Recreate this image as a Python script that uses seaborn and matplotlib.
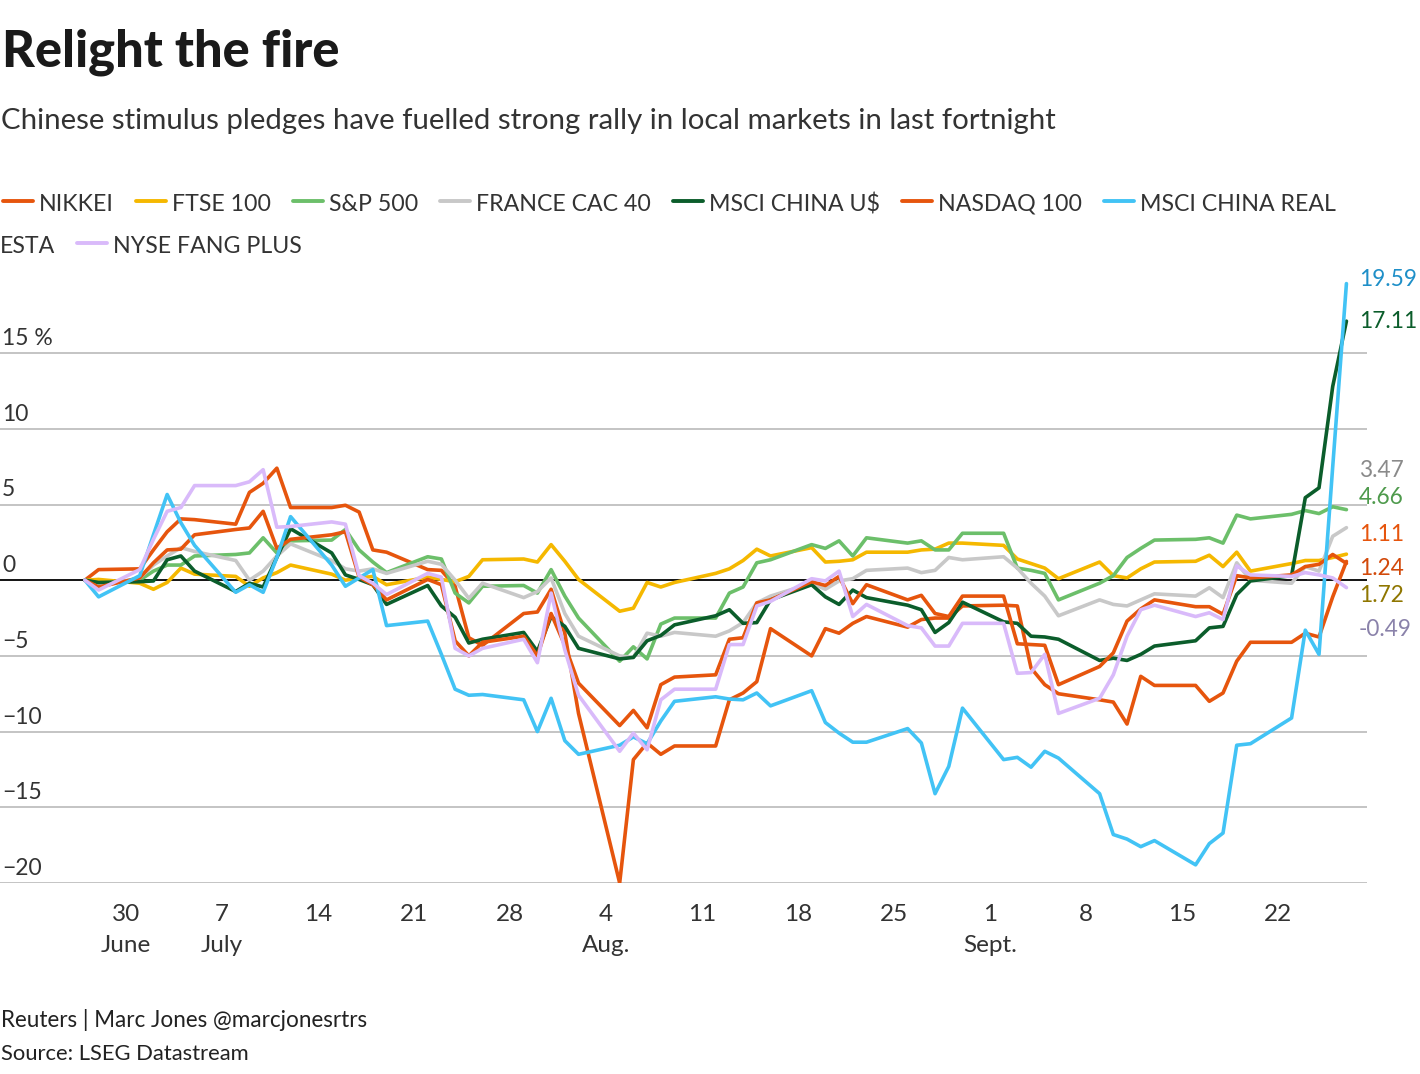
import pandas as pd
import numpy as np
import matplotlib
matplotlib.use("Agg")
import matplotlib.pyplot as plt
import matplotlib.dates as mdates
import matplotlib.transforms as mtransforms
from matplotlib.lines import Line2D
import seaborn as sns

# trading days 27 June - 27 Sept 2024, % change since start
dates = pd.bdate_range("2024-06-27", "2024-09-27")

nikkei = [0, 0.7, 0.75, 2.0, 3.2, 4.05, 4.0, 3.7, 5.8, 6.4, 7.4, 4.8, 4.8, 4.95, 4.5, 2.0, 1.85,
          0.7, 0.65, -0.4, -3.8, -4.3, -2.2, -2.1, -0.6, -3.5, -8.8, -20.0, -11.85, -10.75, -11.5,
          -10.95, -10.95, -7.9, -7.45, -6.7, -3.2, -5.0, -3.2, -3.5, -2.85, -2.4, -3.1, -2.6, -2.5,
          -2.5, -1.7, -1.65, -1.7, -5.8, -6.9, -7.5, -7.9, -8.05, -9.5, -6.35, -6.95, -6.95, -8.0,
          -7.45, -5.35, -4.1, -4.1, -3.5, -3.75, -1.1, 1.24]
ftse = [0, 0.05, -0.2, -0.6, -0.15, 0.8, 0.4, 0.25, -0.4, 0.15, 0.5, 1.0, 0.4, 0.0, 0.15, 0.25, -0.3,
        0.2, 0.05, -0.1, 0.25, 1.35, 1.4, 1.2, 2.35, 1.25, 0.05, -2.05, -1.85, -0.15, -0.45, -0.15,
        0.45, 0.75, 1.3, 2.05, 1.6, 2.15, 1.2, 1.25, 1.35, 1.85, 1.85, 2.0, 2.05, 2.45, 2.45, 2.3,
        1.4, 1.1, 0.8, 0.1, 1.2, 0.3, 0.15, 0.75, 1.2, 1.25, 1.65, 0.9, 1.85, 0.6, 1.1, 1.3, 1.3,
        1.5, 1.72]
sp500 = [0, -0.2, 0.0, 0.6, 1.0, 1.0, 1.6, 1.7, 1.8, 2.8, 1.8, 2.6, 2.65, 3.35, 2.0, 1.2, 0.5,
         1.55, 1.4, -0.85, -1.5, -0.4, -0.35, -0.85, 0.7, -1.05, -2.5, -5.35, -4.4, -5.2, -2.9, -2.5,
         -2.5, -0.85, -0.45, 1.15, 1.35, 2.35, 2.1, 2.6, 1.6, 2.8, 2.45, 2.6, 2.0, 2.0, 3.1, 3.1,
         0.8, 0.65, 0.45, -1.3, -0.2, 0.3, 1.5, 2.1, 2.65, 2.7, 2.8, 2.45, 4.3, 4.05, 4.35, 4.6,
         4.4, 4.85, 4.66]
cac40 = [0, -0.4, 0.15, 1.0, 1.6, 2.15, 1.9, 1.3, 0.0, 0.6, 1.6, 2.4, 1.3, 0.75, 0.6, 0.75, 0.45,
         1.25, 1.05, 0.0, -1.2, -0.2, -1.15, -0.75, 0.15, -2.2, -3.7, -5.0, -5.1, -3.5, -3.7, -3.45,
         -3.7, -3.35, -2.8, -1.5, -1.05, -0.2, -0.6, -0.05, 0.1, 0.65, 0.8, 0.5, 0.65, 1.5, 1.35,
         1.55, 0.8, -0.2, -1.05, -2.35, -1.3, -1.6, -1.7, -1.3, -0.9, -1.05, -0.5, -1.15, 1.15, 0.0,
         -0.2, 0.9, 0.6, 2.9, 3.47]
china_us = [0, -0.15, -0.1, -0.05, 1.35, 1.6, 0.6, -0.75, -0.2, -0.45, 1.5, 3.4, 1.8, 0.35, 0.05,
            -0.3, -1.6, -0.35, -1.7, -2.45, -4.15, -3.9, -3.45, -4.7, -2.4, -3.05, -4.5, -5.2, -5.1,
            -4.0, -3.65, -2.95, -2.35, -1.95, -2.85, -2.8, -1.3, -0.3, -1.1, -1.6, -0.65, -1.15,
            -1.65, -1.95, -3.45, -2.8, -1.45, -2.75, -2.85, -3.7, -3.75, -3.9, -5.3, -5.15, -5.3,
            -4.9, -4.35, -4.0, -3.15, -3.05, -0.95, -0.05, 0.3, 5.45, 6.1, 12.8, 17.11]
nasdaq = [0, -0.45, 0.15, 1.15, 2.0, 2.05, 3.0, 3.35, 3.45, 4.55, 2.1, 2.7, 3.0, 3.2, 0.2, -0.3,
          -1.3, 0.05, -0.3, -4.0, -5.0, -4.1, -3.7, -5.0, -2.2, -4.3, -6.8, -9.6, -8.6, -9.75, -6.9,
          -6.4, -6.25, -3.9, -3.8, -1.5, -1.3, -0.1, -0.35, 0.25, -1.55, -0.3, -1.3, -1.0, -2.2,
          -2.4, -1.05, -1.05, -4.2, -4.25, -4.3, -6.9, -5.7, -4.8, -2.7, -1.9, -1.3, -1.75, -1.75,
          -2.25, 0.3, 0.15, 0.35, 0.9, 1.05, 1.7, 1.11]
china_re = [0, -1.1, 0.3, 3.0, 5.66, 3.8, 2.3, -0.8, -0.3, -0.8, 1.5, 4.2, 1.0, -0.4, 0.15, 0.7,
            -3.0, -2.7, -4.9, -7.2, -7.6, -7.55, -7.9, -10.0, -7.8, -10.6, -11.5, -10.9, -10.35,
            -10.8, -9.3, -8.0, -7.7, -7.85, -7.9, -7.45, -8.3, -7.3, -9.4, -10.1, -10.7, -10.7,
            -9.8, -10.75, -14.1, -12.3, -8.45, -11.85, -11.7, -12.35, -11.3, -11.75, -14.1, -16.8,
            -17.1, -17.6, -17.2, -18.8, -17.4, -16.7, -10.9, -10.8, -9.1, -3.3, -4.9, 7.5, 19.59]
fang = [0, -0.65, 0.7, 2.7, 4.55, 4.8, 6.25, 6.25, 6.5, 7.3, 3.5, 3.55, 3.85, 3.7, 0.3, -0.2,
        -0.95, 0.45, 0.2, -4.5, -5.0, -4.5, -3.9, -5.45, -0.85, -4.6, -7.6, -11.3, -10.1, -11.2,
        -7.9, -7.2, -7.2, -4.25, -4.25, -1.7, -1.4, 0.1, -0.05, 0.6, -2.4, -1.6, -3.0, -3.15,
        -4.35, -4.35, -2.85, -2.85, -6.15, -6.1, -4.9, -8.8, -7.8, -6.25, -3.7, -1.95, -1.65,
        -2.4, -2.15, -2.6, 0.95, 0.35, 0.25, 0.5, 0.35, 0.15, -0.49]

names = ["NIKKEI", "FTSE 100", "S&P 500", "FRANCE CAC 40", "MSCI CHINA U$", "NASDAQ 100",
         "MSCI CHINA REAL ESTA", "NYSE FANG PLUS"]
series = [nikkei, ftse, sp500, cac40, china_us, nasdaq, china_re, fang]
colors = ["#e6550d", "#f5b800", "#6cbf6a", "#c8c8c8", "#0b5d2b", "#e6550d", "#42c3f5", "#d9bafa"]

end_labels = ["1.24", "1.72", "4.66", "3.47", "17.11", "1.11", "19.59", "-0.49"]
label_colors = ["#d2490a", "#8f7600", "#4e9a4c", "#8a8a8a", "#0b5d2b", "#e6550d", "#1e8fc8", "#8a82aa"]
label_y = [0.79, -0.99, 5.49, 7.27, 17.1, 3.04, 19.83, -3.24]   # label placement (data units)

yticks = [-20, -15, -10, -5, 0, 5, 10, 15]
ytick_text = ["\u221220", "\u221215", "\u221210", "\u22125", "0", "5", "10", "15 %"]
xtick_dates = pd.date_range("2024-06-30", "2024-09-22", freq="7D")
xtick_text = ["30\nJune", "7\nJuly", "14", "21", "28", "4\nAug.", "11", "18", "25",
              "1\nSept.", "8", "15", "22"]

df = pd.DataFrame({
    "date": np.tile(dates, len(names)),
    "value": np.concatenate(series),
    "series": np.repeat(names, len(dates)),
})

sns.set_theme(style="white")
plt.rcParams["font.family"] = ["Lato", "DejaVu Sans"]

W, H = 1420, 1074
fig = plt.figure(figsize=(W / 100, H / 100), dpi=100)
fig.patch.set_facecolor("white")

def px(x, y):
    return x / W, 1 - y / H

# axes: x=0..1367 px, y: 20 at 277 px, -20 at 883 px
ax = fig.add_axes([0, 1 - 883 / H, 1367 / W, (883 - 277.4) / H])
sns.lineplot(data=df, x="date", y="value", hue="series", hue_order=names,
             palette=dict(zip(names, colors)), linewidth=2.6, legend=False,
             estimator=None, ax=ax, zorder=3)

x0 = mdates.date2num(pd.Timestamp("2024-06-30"))
ax.set_xlim(x0 - 9.19, x0 + 90.5)
ax.set_ylim(-20, 20)
for s in ax.spines.values():
    s.set_visible(False)
for v in yticks:
    if v == 0:
        ax.axhline(0, color="black", lw=1.3, zorder=2)
    else:
        ax.axhline(v, color="#b4b4b4", lw=1.1, zorder=1)

ax.set_yticks([])
ax.set_xlabel("")
ax.set_ylabel("")
ax.set_xticks(xtick_dates)
ax.set_xticklabels(xtick_text, fontsize=17.5, color="#333333", linespacing=1.6)
ax.tick_params(axis="x", length=0, pad=15)

r = fig.canvas.get_renderer()

def fit(t, target):
    w = t.get_window_extent(r).width
    t.set_fontsize(t.get_fontsize() * target / w)

blend = mtransforms.blended_transform_factory(ax.transAxes, ax.transData)
probe = fig.text(0, 0, "15 %", fontsize=18)
fit(probe, 51)
tick_fs = probe.get_fontsize()
probe.remove()
for v, t in zip(yticks, ytick_text):
    ax.annotate(t, xy=(0, v), xycoords=blend, xytext=(1.5, 5.8), textcoords="offset points",
                va="baseline", ha="left", fontsize=tick_fs, color="#333333")

# end-of-line labels
lblend = mtransforms.blended_transform_factory(fig.transFigure, ax.transData)
probe = fig.text(0, 0, "19.59", fontsize=18)
fit(probe, 58)
lab_fs = probe.get_fontsize()
probe.remove()
for t, c, yv in zip(end_labels, label_colors, label_y):
    ax.text(1359 / W, yv, t, transform=lblend, color=c, fontsize=lab_fs, va="center",
            ha="left", clip_on=False)

# title, subtitle
t = fig.text(*px(2, 66), "Relight the fire", fontsize=34, fontweight="black", color="#1a1a1a",
             va="baseline")
fit(t, 338)
t = fig.text(*px(1, 129), "Chinese stimulus pledges have fuelled strong rally in local markets in last fortnight",
             fontsize=22, color="#333333", va="baseline")
fit(t, 1049)

# legend, flowing, wrapped as in the original
probe = fig.text(0, 0, "FRANCE CAC 40", fontsize=18)
fit(probe, 174)
leg_fs = probe.get_fontsize()
probe.remove()

rows = [211, 253]
x, row = 3, 0
for name, c in zip(names, colors):
    yb = rows[row]
    fig.add_artist(Line2D([x / W, (x + 30) / W], [1 - (yb - 10) / H] * 2, color=c, lw=2.8,
                          transform=fig.transFigure))
    parts = ["MSCI CHINA REAL", "ESTA"] if name == "MSCI CHINA REAL ESTA" else [name]
    tx = x + 36
    for i, p in enumerate(parts):
        if i > 0:
            row += 1
            yb = rows[row]
            tx = 0
        tt = fig.text(*px(tx, yb), p, fontsize=leg_fs, color="#333333", va="baseline")
        tx = tt.get_window_extent(r).x1
    x = tx + 22

# footer
t = fig.text(*px(1, 1027), "Reuters | Marc Jones @marcjonesrtrs", fontsize=15, color="#222222",
             va="baseline")
fit(t, 369)
t = fig.text(*px(1, 1060), "Source: LSEG Datastream", fontsize=15, color="#222222", va="baseline")
fit(t, 250)

fig.savefig("out.png", dpi=100, facecolor="white")
